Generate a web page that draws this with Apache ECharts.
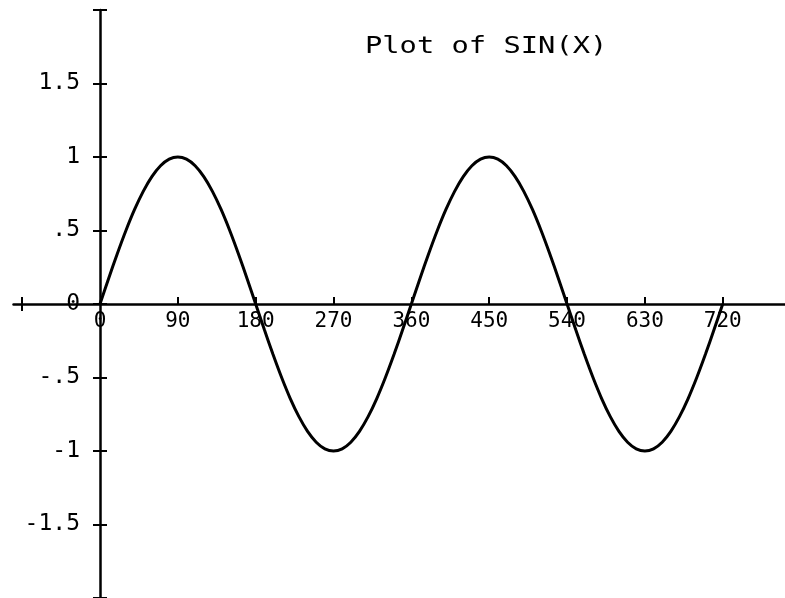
<!DOCTYPE html>
<html>
<head>
<meta charset="utf-8">
<script src="https://cdn.jsdelivr.net/npm/echarts@6/dist/echarts.min.js"></script>
<style>html,body{margin:0;padding:0;background:#fff}#c{width:785px;height:598px}</style>
</head>
<body>
<div id="c"></div>
<script>
// Angles in degrees (x) and values (y)
const xValues = [0,10,20,30,40,50,60,70,80,90,100,110,120,130,140,150,160,170,180,190,200,210,220,230,240,250,260,270,280,290,300,310,320,330,340,350,360,370,380,390,400,410,420,430,440,450,460,470,480,490,500,510,520,530,540,550,560,570,580,590,600,610,620,630,640,650,660,670,680,690,700,710,720];
const yValues = [0,0.174,0.342,0.5,0.643,0.766,0.866,0.94,0.985,1,0.985,0.94,0.866,0.766,0.643,0.5,0.342,0.174,0,-0.174,-0.342,-0.5,-0.643,-0.766,-0.866,-0.94,-0.985,-1,-0.985,-0.94,-0.866,-0.766,-0.643,-0.5,-0.342,-0.174,0,0.174,0.342,0.5,0.643,0.766,0.866,0.94,0.985,1,0.985,0.94,0.866,0.766,0.643,0.5,0.342,0.174,0,-0.174,-0.342,-0.5,-0.643,-0.766,-0.866,-0.94,-0.985,-1,-0.985,-0.94,-0.866,-0.766,-0.643,-0.5,-0.342,-0.174,0];
const xTickValues = [-90,90,180,270,360,450,540,630,720];
const xExtraTick = [-90];
const xLabelValues = [0,90,180,270,360,450,540,630,720];
const titleText = 'Plot of SIN(X)';

const FONT = 'DejaVu Sans Mono';
const chart = echarts.init(document.getElementById('c'), null, {renderer: 'canvas'});
const fmtY = v => {
  if (v === 0) return '0';
  if (Math.abs(v) >= 2) return ' ';
  let s = String(v);
  s = s.replace('0.', '.');
  return s;
};
const lineStyle = {color: '#000', width: 2.5};
const tickStyle = {color: '#000', width: 2};
// grid: x from -100 (left edge) to 792, y from -2 (bottom) to 2 (top)
const X_OFF = -86.5;    // move y axis from grid's left edge to x = 0
const Y_OFF = -294;     // move x axis from grid's bottom edge to y = 0
chart.setOption({
  animation: false,
  backgroundColor: '#fff',
  grid: {left: 13.5, right: 0, top: 10, bottom: 0, containLabel: false, outerBoundsMode: 'none'},
  xAxis: [{
    type: 'value', min: -100, max: 792, position: 'bottom', offset: Y_OFF,
    axisLine: {show: true, onZero: false, lineStyle: lineStyle},
    axisTick: {show: true, inside: true, length: 7, customValues: xTickValues, lineStyle: tickStyle},
    axisLabel: {show: true, customValues: xLabelValues, margin: 7, color: '#000', fontFamily: FONT, fontSize: 21},
    splitLine: {show: false}
  }, {
    type: 'value', min: -100, max: 792, position: 'bottom', offset: Y_OFF,
    axisLine: {show: false, onZero: false},
    axisTick: {show: true, inside: false, length: 7, customValues: xExtraTick, lineStyle: tickStyle},
    axisLabel: {show: false},
    splitLine: {show: false}
  }],
  yAxis: [{
    type: 'value', min: -2, max: 2, interval: 0.5, position: 'left', offset: X_OFF,
    axisLine: {show: true, onZero: false, lineStyle: lineStyle},
    axisTick: {show: true, inside: false, length: 7, lineStyle: tickStyle},
    axisLabel: {show: true, margin: 20, color: '#000', fontFamily: FONT, fontSize: 23,
      showMinLabel: true, showMaxLabel: true, hideOverlap: false, formatter: fmtY},
    splitLine: {show: false}
  }, {
    type: 'value', min: -2, max: 2, interval: 0.5, position: 'left', offset: X_OFF,
    axisLine: {show: false, onZero: false},
    axisTick: {show: true, inside: true, length: 7, lineStyle: tickStyle},
    axisLabel: {show: true, inside: true, margin: 20, color: 'rgba(0,0,0,0)', fontSize: 10,
      showMinLabel: true, showMaxLabel: true, hideOverlap: false},
    splitLine: {show: false}
  }],
  series: [{
    type: 'line',
    data: xValues.map((x, i) => [x, yValues[i]]),
    showSymbol: false,
    smooth: 0.3,
    lineStyle: {color: '#000', width: 3},
    xAxisIndex: 0, yAxisIndex: 0
  }],
  graphic: [{
    type: 'text', x: 365, y: 47, scaleX: 1.25,
    style: {text: titleText, font: '23px "' + FONT + '"', fill: '#000', textVerticalAlign: 'middle', textAlign: 'left'}
  }]
});
</script>
</body>
</html>
